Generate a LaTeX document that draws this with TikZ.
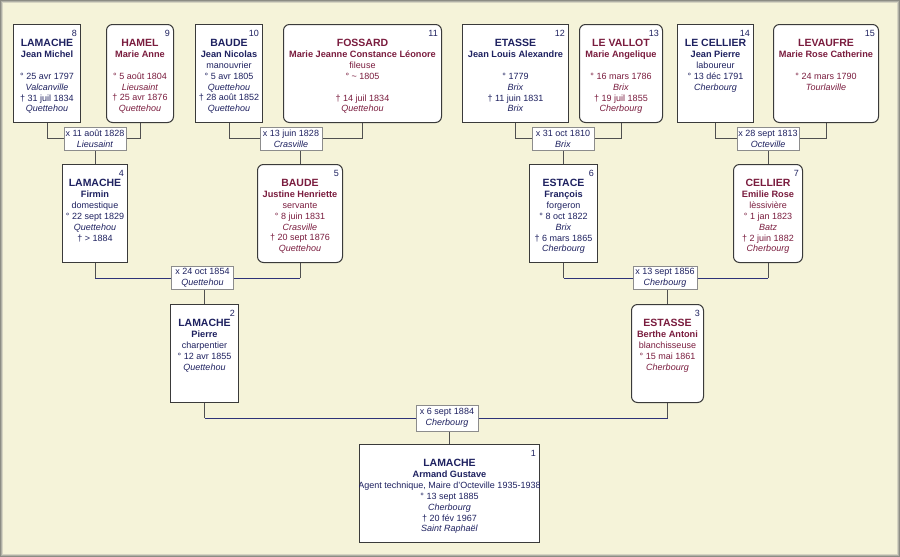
\documentclass[tikz,border=0pt]{standalone}
\usepackage{fontspec}
\setmainfont{Liberation Sans}
\usetikzlibrary{calc}
\definecolor{bgc}{HTML}{F5F3D9}
\definecolor{mcol}{HTML}{1E2160}
\definecolor{fcol}{HTML}{7A1C3E}
\definecolor{boxb}{HTML}{3A3A3A}
\definecolor{labb}{HTML}{8C8C8C}
\definecolor{linec}{HTML}{505050}
\definecolor{navyl}{HTML}{2E3278}
\definecolor{fr1}{HTML}{8C8C84}
\definecolor{fr2}{HTML}{B0B0A6}
\definecolor{fr3}{HTML}{D6D4C2}
\pgfdeclarelayer{bglayer}
\pgfdeclarelayer{linelayer}
\pgfsetlayers{bglayer,linelayer,main}
\newcommand\psur[1]{{\fontsize{10.5}{10.9}\selectfont\bfseries #1}}
\newcommand\pfirst[1]{{\fontsize{9.2}{10.9}\selectfont\bfseries #1}}
\tikzset{
  pbox/.style={draw=boxb, fill=white, line width=1pt, inner sep=0pt, anchor=north west},
  mbox/.style={pbox},
  fbox/.style={pbox, rounded corners=6pt},
  ptext/.style={anchor=north, align=center, inner sep=0pt, font=\fontsize{9}{10.9}\selectfont},
  mtext/.style={ptext, text=mcol},
  ftext/.style={ptext, text=fcol},
  pnum/.style={anchor=base east, inner sep=0pt, font=\fontsize{9}{10}\selectfont, text=mcol},
  mlab/.style={draw=labb, fill=white, line width=1pt, inner sep=0pt, minimum width=62pt, minimum height=23pt, align=center, font=\fontsize{9}{10.8}\selectfont, text=mcol},
  vline/.style={draw=linec, line width=1pt},
  hline/.style={draw=navyl, line width=1pt},
}
% #1 name, #2 m/f, #3 x1, #4 y1, #5 x2, #6 y2, #7 number, #8 text
\newcommand\pbx[8]{%
  \node[#2box, minimum width={#5-#3}, minimum height={#6-#4}] (#1) at (#3,#4) {};
  \begin{scope}
    \clip (#3,#4) rectangle (#5,#6);
    \node[#2text] (#1t) at ($(#1.north)+(0,15)$) {#8};
  \end{scope}
  \node[pnum] (#1n) at ($(#1.north east)+(-4,12.5)$) {#7};
}
\begin{document}
\begin{tikzpicture}[x=1pt,y=-1pt]
\useasboundingbox (0,0) rectangle (900,557);
\begin{pgfonlayer}{bglayer}
  \fill[bgc] (0,0) rectangle (900,557);
  \draw[fr1, line width=1pt] (0.5,0.5) rectangle (899.5,556.5);
  \draw[fr2, line width=1pt] (1.5,1.5) rectangle (898.5,555.5);
  \draw[fr3, line width=1pt] (2.5,2.5) rectangle (897.5,554.5);
\end{pgfonlayer}

% generation 4
\pbx{b8}{m}{13}{24}{80}{122}{8}{\psur{LAMACHE}\\\pfirst{Jean Michel}\\\mbox{}\\° 25 avr 1797\\\textit{Valcanville}\\† 31 juil 1834\\\textit{Quettehou}}
\pbx{b9}{f}{106}{24}{173}{122}{9}{\psur{HAMEL}\\\pfirst{Marie Anne}\\\mbox{}\\° 5 août 1804\\\textit{Lieusaint}\\† 25 avr 1876\\\textit{Quettehou}}
\pbx{b10}{m}{195}{24}{262}{122}{10}{\psur{BAUDE}\\\pfirst{Jean Nicolas}\\manouvrier\\° 5 avr 1805\\\textit{Quettehou}\\† 28 août 1852\\\textit{Quettehou}}
\pbx{b11}{f}{283}{24}{441}{122}{11}{\psur{FOSSARD}\\\pfirst{Marie Jeanne Constance Léonore}\\fileuse\\° \textasciitilde{} 1805\\\mbox{}\\† 14 juil 1834\\\textit{Quettehou}}
\pbx{b12}{m}{462}{24}{568}{122}{12}{\psur{ETASSE}\\\pfirst{Jean Louis Alexandre}\\\mbox{}\\° 1779\\\textit{Brix}\\† 11 juin 1831\\\textit{Brix}}
\pbx{b13}{f}{579}{24}{662}{122}{13}{\psur{LE VALLOT}\\\pfirst{Marie Angelique}\\\mbox{}\\° 16 mars 1786\\\textit{Brix}\\† 19 juil 1855\\\textit{Cherbourg}}
\pbx{b14}{m}{677}{24}{753}{122}{14}{\psur{LE CELLIER}\\\pfirst{Jean Pierre}\\laboureur\\° 13 déc 1791\\\textit{Cherbourg}}
\pbx{b15}{f}{773}{24}{878}{122}{15}{\psur{LEVAUFRE}\\\pfirst{Marie Rose Catherine}\\\mbox{}\\° 24 mars 1790\\\textit{Tourlaville}}

% generation 3
\pbx{b4}{m}{62}{164}{127}{262}{4}{\psur{LAMACHE}\\\pfirst{Firmin}\\domestique\\° 22 sept 1829\\\textit{Quettehou}\\† > 1884}
\pbx{b5}{f}{257}{164}{342}{262}{5}{\psur{BAUDE}\\\pfirst{Justine Henriette}\\servante\\° 8 juin 1831\\\textit{Crasville}\\† 20 sept 1876\\\textit{Quettehou}}
\pbx{b6}{m}{529}{164}{597}{262}{6}{\psur{ESTACE}\\\pfirst{François}\\forgeron\\° 8 oct 1822\\\textit{Brix}\\† 6 mars 1865\\\textit{Cherbourg}}
\pbx{b7}{f}{733}{164}{802}{262}{7}{\psur{CELLIER}\\\pfirst{Emilie Rose}\\lèssivière\\° 1 jan 1823\\\textit{Batz}\\† 2 juin 1882\\\textit{Cherbourg}}

% generation 2
\pbx{b2}{m}{170}{304}{238}{402}{2}{\psur{LAMACHE}\\\pfirst{Pierre}\\charpentier\\° 12 avr 1855\\\textit{Quettehou}}
\pbx{b3}{f}{631}{304}{703}{402}{3}{\psur{ESTASSE}\\\pfirst{Berthe Antoni}\\blanchisseuse\\° 15 mai 1861\\\textit{Cherbourg}}

% generation 1
\pbx{b1}{m}{359}{444}{539}{542}{1}{\psur{LAMACHE}\\\pfirst{Armand Gustave}\\Agent technique, Maire d'Octeville 1935-1938\\° 13 sept 1885\\\textit{Cherbourg}\\† 20 fév 1967\\\textit{Saint Raphaël}}

% marriage labels
\node[mlab] (m1) at (95,138.5) {x 11 août 1828\\\textit{Lieusaint}};
\node[mlab] (m2) at (291,138.5) {x 13 juin 1828\\\textit{Crasville}};
\node[mlab] (m3) at (563,138.5) {x 31 oct 1810\\\textit{Brix}};
\node[mlab] (m4) at (768,138.5) {x 28 sept 1813\\\textit{Octeville}};
\node[mlab] (m5) at (202.5,278) {x 24 oct 1854\\\textit{Quettehou}};
\node[mlab, minimum width=64pt] (m6) at (665,278) {x 13 sept 1856\\\textit{Cherbourg}};
\node[mlab, minimum height=26pt] (m7) at (447,418) {x 6 sept 1884\\\textit{Cherbourg}};

\begin{pgfonlayer}{linelayer}
  % top generation couples
  \draw[vline] (b8.south) |- (m1.west);
  \draw[vline] (b9.south) |- (m1.east);
  \draw[vline] (b10.south) |- (m2.west);
  \draw[vline] (b11.south) |- (m2.east);
  \draw[vline] (b12.south) |- (m3.west);
  \draw[vline] (b13.south) |- (m3.east);
  \draw[vline] (b14.south) |- (m4.west);
  \draw[vline] (b15.south) |- (m4.east);
  \draw[vline] (m1.south -| b4.north) -- (b4.north);
  \draw[vline] (m2.south -| b5.north) -- (b5.north);
  \draw[vline] (m3.south -| b6.north) -- (b6.north);
  \draw[vline] (m4.south -| b7.north) -- (b7.north);
  % generation 3 couples
  \draw[vline] (b4.south) -- (b4.south |- m5.west);
  \draw[hline] (b4.south |- m5.west) -- (m5.west);
  \draw[vline] (b5.south) -- (b5.south |- m5.east);
  \draw[hline] (b5.south |- m5.east) -- (m5.east);
  \draw[vline] (b6.south) -- (b6.south |- m6.west);
  \draw[hline] (b6.south |- m6.west) -- (m6.west);
  \draw[vline] (b7.south) -- (b7.south |- m6.east);
  \draw[hline] (b7.south |- m6.east) -- (m6.east);
  \draw[vline] (m5.south -| b2.north) -- (b2.north);
  \draw[vline] (m6.south -| b3.north) -- (b3.north);
  % generation 2 couple
  \draw[vline] (b2.south) -- (b2.south |- m7.west);
  \draw[hline] (b2.south |- m7.west) -- (m7.west);
  \draw[vline] (b3.south) -- (b3.south |- m7.east);
  \draw[hline] (b3.south |- m7.east) -- (m7.east);
  \draw[vline] (m7.south -| b1.north) -- (b1.north);
\end{pgfonlayer}
\end{tikzpicture}
\end{document}
